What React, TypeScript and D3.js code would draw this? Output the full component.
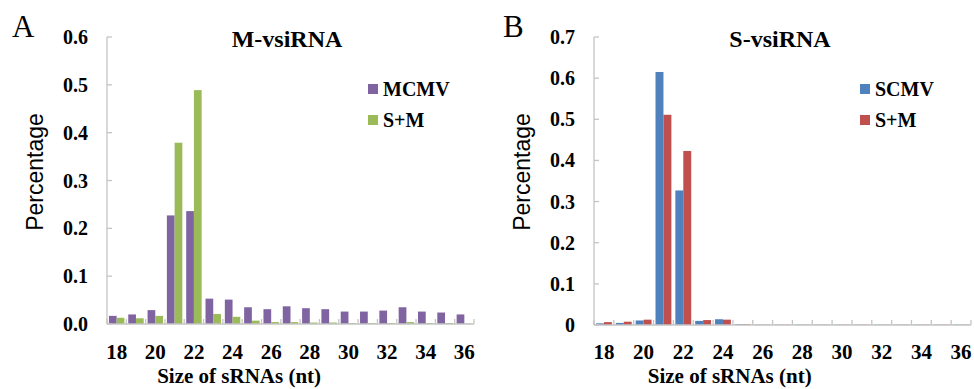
import React, { useEffect, useRef } from 'react';
import * as d3 from 'd3';

// sizes of sRNAs (nt)
const sizes = [18, 19, 20, 21, 22, 23, 24, 25, 26, 27, 28, 29, 30, 31, 32, 33, 34, 35, 36];
const xTickLabels = ['18', '20', '22', '24', '26', '28', '30', '32', '34', '36'];

// panel A: M-vsiRNA
const mcmv = [0.017, 0.020, 0.029, 0.227, 0.236, 0.053, 0.051, 0.035, 0.031, 0.037, 0.033, 0.031, 0.026, 0.026, 0.028, 0.035, 0.026, 0.024, 0.020];
const smA = [0.013, 0.012, 0.017, 0.379, 0.489, 0.021, 0.015, 0.007, 0.004, 0.004, 0.003, 0.003, 0.002, 0.002, 0.002, 0.004, 0.002, 0.002, 0.001];
const yTicksA = [0, 0.1, 0.2, 0.3, 0.4, 0.5, 0.6];
const yLabelsA = ['0.0', '0.1', '0.2', '0.3', '0.4', '0.5', '0.6'];

// panel B: S-vsiRNA
const scmv = [0.004, 0.005, 0.011, 0.615, 0.327, 0.010, 0.014, 0.002, 0.001, 0.001, 0.001, 0.001, 0.001, 0.001, 0.001, 0.001, 0.001, 0.001, 0.001];
const smB = [0.007, 0.008, 0.013, 0.511, 0.423, 0.012, 0.013, 0.002, 0.001, 0.001, 0.001, 0.001, 0.001, 0.001, 0.001, 0.001, 0.001, 0.001, 0.001];
const yTicksB = [0, 0.1, 0.2, 0.3, 0.4, 0.5, 0.6, 0.7];
const yLabelsB = ['0', '0.1', '0.2', '0.3', '0.4', '0.5', '0.6', '0.7'];

const serif = 'Liberation Serif';
const sans = 'Liberation Sans';
const axisColor = '#c4c4c4';

type Panel = {
  letter: string;
  letterX: number;
  title: string;
  titleX: number;
  left: number;
  right: number;
  bottom: number;
  top: number;
  yMax: number;
  yTicks: number[];
  yLabels: string[];
  names: string[];
  series: number[][];
  colors: string[];
  legendX: number;
  ylabelX: number;
};

const panels: Panel[] = [
  {
    letter: 'A', letterX: 12, title: 'M-vsiRNA', titleX: 287,
    left: 107, right: 474, bottom: 324, top: 37, yMax: 0.6,
    yTicks: yTicksA, yLabels: yLabelsA,
    names: ['MCMV', 'S+M'], series: [mcmv, smA], colors: ['#8064A2', '#9BBB59'],
    legendX: 368, ylabelX: 43
  },
  {
    letter: 'B', letterX: 503, title: 'S-vsiRNA', titleX: 780,
    left: 594, right: 971, bottom: 325, top: 37, yMax: 0.7,
    yTicks: yTicksB, yLabels: yLabelsB,
    names: ['SCMV', 'S+M'], series: [scmv, smB], colors: ['#4F81BD', '#C0504D'],
    legendX: 860, ylabelX: 530
  }
];

function drawPanel(svg: d3.Selection<SVGSVGElement, unknown, null, undefined>, p: Panel) {
  const g = svg.append('g');

  const x0 = d3.scaleBand<number>()
    .domain(sizes)
    .range([p.left, p.right])
    .paddingInner(0.2)
    .paddingOuter(0.1);
  const x1 = d3.scaleBand<number>()
    .domain(d3.range(p.series.length))
    .range([0, x0.bandwidth()]);
  const step = (p.right - p.left) / sizes.length;

  const y = d3.scaleLinear().domain([0, p.yMax]).range([p.bottom, p.top]);

  // bars
  p.series.forEach((vals, si) => {
    g.append('g')
      .selectAll('rect')
      .data(vals)
      .join('rect')
      .attr('x', (d, i) => x0(sizes[i])! + x1(si)!)
      .attr('y', d => y(d))
      .attr('width', x1.bandwidth())
      .attr('height', d => y(0) - y(d))
      .attr('fill', p.colors[si]);
  });

  // y axis, ticks point inward
  g.append('line')
    .attr('x1', p.left).attr('x2', p.left)
    .attr('y1', y(0)).attr('y2', y(p.yMax))
    .attr('stroke', axisColor).attr('stroke-width', 1.3);
  g.append('g')
    .selectAll('line')
    .data(p.yTicks)
    .join('line')
    .attr('x1', p.left).attr('x2', p.left + 5)
    .attr('y1', d => y(d)).attr('y2', d => y(d))
    .attr('stroke', axisColor).attr('stroke-width', 1.3);
  g.append('g')
    .selectAll('text')
    .data(p.yTicks)
    .join('text')
    .attr('x', p.left - 19)
    .attr('y', d => y(d) + 7)
    .attr('text-anchor', 'end')
    .attr('font-family', serif)
    .attr('font-weight', 'bold')
    .attr('font-size', 20)
    .text((d, i) => p.yLabels[i]);

  // x axis with ticks between categories
  g.append('line')
    .attr('x1', p.left).attr('x2', p.right)
    .attr('y1', y(0)).attr('y2', y(0))
    .attr('stroke', axisColor).attr('stroke-width', 1.3);
  g.append('g')
    .selectAll('line')
    .data(d3.range(sizes.length + 1))
    .join('line')
    .attr('x1', i => p.left + i * step).attr('x2', i => p.left + i * step)
    .attr('y1', y(0)).attr('y2', y(0) - 5)
    .attr('stroke', axisColor).attr('stroke-width', 1.3);
  g.append('g')
    .selectAll('text')
    .data(xTickLabels)
    .join('text')
    .attr('x', d => x0(+d)! + x0.bandwidth() / 2)
    .attr('y', 359)
    .attr('text-anchor', 'middle')
    .attr('font-family', serif)
    .attr('font-weight', 'bold')
    .attr('font-size', 21)
    .text(d => d);

  g.append('text')
    .attr('x', p.left + (p.right - p.left) * 0.36)
    .attr('y', 383)
    .attr('text-anchor', 'middle')
    .attr('font-family', serif)
    .attr('font-weight', 'bold')
    .attr('font-size', 21)
    .text('Size of sRNAs (nt)');

  g.append('text')
    .attr('transform', `translate(${p.ylabelX}, 172) rotate(-90)`)
    .attr('text-anchor', 'middle')
    .attr('font-family', sans)
    .attr('font-size', 23)
    .text('Percentage');

  // title and panel letter
  g.append('text')
    .attr('x', p.titleX).attr('y', 47)
    .attr('text-anchor', 'middle')
    .attr('font-family', serif)
    .attr('font-weight', 'bold')
    .attr('font-size', 24)
    .text(p.title);
  g.append('text')
    .attr('x', p.letterX).attr('y', 37)
    .attr('font-family', serif)
    .attr('font-size', 31)
    .text(p.letter);

  // legend
  const lg = g.append('g')
    .selectAll('g')
    .data(p.names)
    .join('g')
    .attr('transform', (d, i) => `translate(${p.legendX}, ${84 + i * 31})`);
  lg.append('rect')
    .attr('width', 10).attr('height', 10)
    .attr('fill', (d, i) => p.colors[i]);
  lg.append('text')
    .attr('x', 15).attr('y', 12)
    .attr('font-family', serif)
    .attr('font-weight', 'bold')
    .attr('font-size', 20)
    .text(d => d);
}

export default function App() {
  const ref = useRef<SVGSVGElement>(null);

  useEffect(() => {
    const svg = d3.select(ref.current!);
    svg.selectAll('*').remove();
    panels.forEach(p => drawPanel(svg, p));
  }, []);

  return (
    <svg
      ref={ref}
      width={974}
      height={389}
      style={{ position: 'absolute', left: 0, top: 0, background: '#fff' }}
    />
  );
}
